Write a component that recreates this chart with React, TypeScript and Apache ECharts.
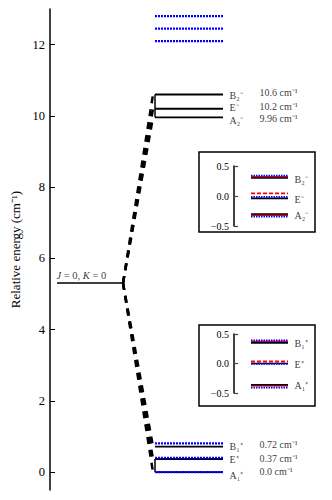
import React, { useEffect, useRef } from "react";
import * as echarts from "echarts";

// ---- data ----
const J_LEVEL = 5.31;
const upperNames = ["B₂⁻", "E⁻", "A₂⁻"];
const upperEnergies = [10.6, 10.2, 9.96];
const upperEnergyLabels = ["10.6 cm⁻¹", "10.2 cm⁻¹", "9.96 cm⁻¹"];
const upperBlue = [12.8, 12.45, 12.1];
const lowerNames = ["B₁⁺", "E⁺", "A₁⁺"];
const lowerEnergies = [0.72, 0.37, 0.0];
const lowerEnergyLabels = ["0.72 cm⁻¹", "0.37 cm⁻¹", "0.0 cm⁻¹"];
const lowerBlue = [0.81, 0.4, 0.0];
const yTicks = [0, 2, 4, 6, 8, 10, 12];

const insetUpperRed = [0.32, 0.045, -0.32];
const insetUpperBlack = [0.3, -0.04, -0.3];
const insetUpperBlue = [0.34, -0.013, -0.345];
const insetLowerRed = [0.37, 0.034, -0.375];
const insetLowerBlack = [0.35, 0.0, -0.36];
const insetLowerBlue = [0.39, -0.007, -0.41];

// ---- layout (x in axis units) ----
const FONT = "Liberation Serif";
const XJ0 = 7, XJ1 = 73, XD1 = 103, XL0 = 105, XL1 = 173, XSYM = 179, XEN = 209;
const IX0 = 17, IX1 = 54, IXL = 60;

function hline(xi: number, yi: number, x0: number, x1: number, y: number, color: string, width: number, type: any, z = 2) {
  return {
    type: "line", xAxisIndex: xi, yAxisIndex: yi, data: [[x0, y], [x1, y]],
    symbol: "none", silent: true, z,
    lineStyle: { color, width, type },
  };
}
function seg(xi: number, yi: number, a: number[], b: number[], color: string, width: number, type: any) {
  return {
    type: "line", xAxisIndex: xi, yAxisIndex: yi, data: [a, b],
    symbol: "none", silent: true, lineStyle: { color, width, type },
  };
}
function labels(xi: number, yi: number, x: number, ys: number[], texts: string[], size: number, dys: number[]) {
  return {
    type: "scatter", xAxisIndex: xi, yAxisIndex: yi, symbolSize: 1, silent: true,
    itemStyle: { color: "rgba(0,0,0,0)" },
    data: ys.map((y, i) => ({
      value: [x, y], name: texts[i],
      label: { offset: [0, dys[i]] },
    })),
    label: {
      show: true, position: "right", distance: 0,
      formatter: (p: any) => p.name, color: "#000", fontFamily: FONT, fontSize: size, lineHeight: 11,
    },
  };
}

export default function App() {
  const ref = useRef<HTMLDivElement>(null);
  useEffect(() => {
    const chart = echarts.init(ref.current!, null, { renderer: "svg" });
    const series: any[] = [];
    // J=0 level
    series.push(hline(0, 0, XJ0, XJ1, J_LEVEL, "#000", 1.3, "solid"));
    series.push({
      type: "scatter", xAxisIndex: 0, yAxisIndex: 0, symbolSize: 1, silent: true,
      itemStyle: { color: "rgba(0,0,0,0)" },
      data: [[XJ0, J_LEVEL]],
      label: {
        show: true, position: [0, -12], formatter: "{i|J} = 0, {i|K} = 0",
        color: "#000", fontFamily: FONT, fontSize: 10.5,
        rich: { i: { fontStyle: "italic", fontFamily: FONT, fontSize: 10.5, color: "#000" } },
      },
    });
    // dashed connectors
    [...upperEnergies, ...lowerEnergies].forEach((e) =>
      series.push(seg(0, 0, [XJ1, J_LEVEL], [XD1, e], "#000", 2.5, [7, 6]))
    );
    // brackets
    series.push(seg(0, 0, [XL0, Math.min(...upperEnergies)], [XL0, Math.max(...upperEnergies)], "#000", 1.5, "solid"));
    series.push(seg(0, 0, [XL0, Math.min(...lowerEnergies)], [XL0, lowerEnergies[1]], "#000", 1.5, "solid"));
    // levels
    [...upperEnergies, ...lowerEnergies].forEach((e) => series.push(hline(0, 0, XL0, XL1, e, "#000", 1.8, "solid")));
    [...upperBlue, ...lowerBlue].forEach((e) => series.push(hline(0, 0, XL0, XL1, e, "#0000ff", 2.2, [2, 1], 3)));
    // labels
    series.push(labels(0, 0, XSYM, upperEnergies, upperNames, 10, [1, -1, 3]));
    series.push(labels(0, 0, XEN, upperEnergies, upperEnergyLabels, 10, [-2, -2, 1]));
    series.push(labels(0, 0, XSYM, lowerEnergies, lowerNames, 10, [0, 0, 3]));
    series.push(labels(0, 0, XEN, lowerEnergies, lowerEnergyLabels, 10, [-2, -1, -1]));

    // insets
    const insets = [
      { red: insetUpperRed, black: insetUpperBlack, blue: insetUpperBlue, names: upperNames },
      { red: insetLowerRed, black: insetLowerBlack, blue: insetLowerBlue, names: lowerNames },
    ];
    insets.forEach((ins, k) => {
      const ai = k + 1;
      ins.red.forEach((v, i) => series.push(hline(ai, ai, IX0, IX1, v, "#ff0000", 1.8, i === 1 ? [4, 2] : "solid", 2)));
      ins.black.forEach((v) => series.push(hline(ai, ai, IX0, IX1, v, "#000", 1.6, "solid", 3)));
      ins.blue.forEach((v) => series.push(hline(ai, ai, IX0, IX1, v, "#0000ff", 1.8, [1.5, 1], 4)));
      series.push(labels(ai, ai, IXL, ins.black, ins.names, 10, [1, 1, 1]));
    });

    const insetY = (gi: number) => ({
      type: "value", gridIndex: gi, min: -0.5, max: 0.5, interval: 0.5,
      axisLine: { show: true, lineStyle: { color: "#000", width: 1.5 } },
      axisTick: { show: true, inside: true, length: 4, lineStyle: { color: "#444", width: 1.2 } },
      axisLabel: {
        color: "#000", fontFamily: FONT, fontSize: 10, margin: 5,
        formatter: (v: number) => (v < 0 ? "−" : "") + Math.abs(v).toFixed(1),
      },
      splitLine: { show: false },
    });
    const hiddenX = (gi: number, max: number) => ({ type: "value", gridIndex: gi, min: 0, max, show: false });

    chart.setOption({
      animation: false,
      backgroundColor: "#fff",
      grid: [
        { left: 50, top: 9, width: 282, height: 481 },
        { left: 234, top: 166, width: 80, height: 60 },
        { left: 234, top: 334, width: 80, height: 59 },
      ],
      xAxis: [hiddenX(0, 282), hiddenX(1, 80), hiddenX(2, 80)],
      yAxis: [
        {
          type: "value", gridIndex: 0, min: -0.5, max: 13,
          name: "Relative energy (cm⁻¹)", nameLocation: "middle", nameGap: 27,
          nameTextStyle: { color: "#000", fontFamily: FONT, fontSize: 13 },
          axisLine: { show: true, lineStyle: { color: "#000", width: 1.5 } },
          axisTick: { show: true, inside: true, length: 5, customValues: yTicks, lineStyle: { color: "#000", width: 1 } },
          axisLabel: { customValues: yTicks, color: "#000", fontFamily: FONT, fontSize: 12.5, margin: 5 },
          splitLine: { show: false },
        },
        insetY(1),
        insetY(2),
      ],
      graphic: [
        { type: "rect", shape: { x: 199, y: 152, width: 116, height: 80 }, style: { fill: "none", stroke: "#000", lineWidth: 1.5 }, z: 10 },
        { type: "rect", shape: { x: 199, y: 325, width: 116, height: 81 }, style: { fill: "none", stroke: "#000", lineWidth: 1.5 }, z: 10 },
      ],
      series,
    });
    return () => chart.dispose();
  }, []);
  return <div ref={ref} style={{ width: 332, height: 500, position: "absolute", left: 0, top: 0 }} />;
}
